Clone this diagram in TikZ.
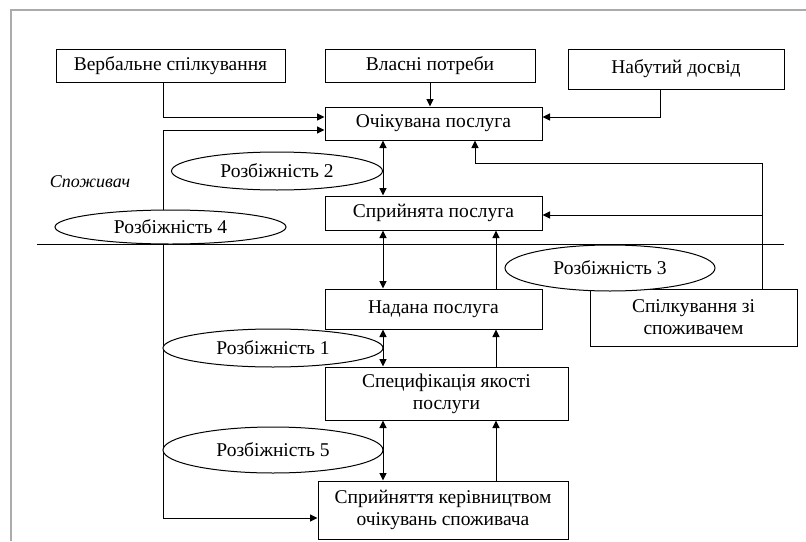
\documentclass[tikz,border=0pt]{standalone}
\usepackage{fontspec}
\setmainfont{Liberation Serif}
\newfontfamily\serf{Liberation Serif}
\usetikzlibrary{arrows.meta,shapes.geometric}
\begin{document}
\begin{tikzpicture}[x=1pt,y=-1pt,
  every node/.style={font=\serf\fontsize{19.5}{22}\selectfont, inner sep=0pt},
  box/.style={draw, line width=1pt, align=center},
  ell/.style={draw, ellipse, line width=1pt, fill=white},
  conn/.style={line width=1pt, -{Triangle[length=7.5pt,width=7pt]}},
  conn2/.style={line width=1pt, {Triangle[length=7.5pt,width=7pt]}-{Triangle[length=7.5pt,width=7pt]}},
  plain/.style={line width=1pt},
  frame/.style={draw=black!33, line width=2.5pt}]
\useasboundingbox (0,0) rectangle (806,541);
\draw[frame] (11,541) -- (11,10) -- (806,10);

% boxes
\node[box, minimum width=229pt, minimum height=33pt] (verb) at (170.5,65.5) {Вербальне спілкування};
\node[box, minimum width=210pt, minimum height=33pt] (vlas) at (430,65.5) {Власні потреби};
\node[box, minimum width=216pt, minimum height=40pt] (nab) at (676,69) {Набутий досвід};
\node[box, minimum width=217pt, minimum height=33pt] (ochik) at (433.5,123.5) {Очікувана послуга};
\node[box, minimum width=217pt, minimum height=34pt] (spryin) at (433.5,213) {Сприйнята послуга};
\node[box, minimum width=217pt, minimum height=40pt] (nadana) at (433.5,309) {Надана послуга};
\node[box, minimum width=243pt, minimum height=53pt] (spec) at (446.5,393.5) {Специфікація якості\\послуги};
\node[box, minimum width=250pt, minimum height=58pt] (kerivn) at (443,510) {Сприйняття керівництвом\\очікувань споживача};
\node[box, minimum width=207pt, minimum height=57pt] (spilk) at (693.5,317.5) {Спілкування зі\\споживачем};

\node[font=\serf\fontsize{18}{21}\selectfont\itshape] (spoz) at (90,182) {Споживач};

% helper coordinates
\coordinate (xl) at (163,0);
\coordinate (xn) at (660,0);
\coordinate (xs) at (762,0);
\coordinate (xd) at (383,0);
\coordinate (xu) at (496,0);
\coordinate (c1) at (475,163);
\coordinate (hl) at (37,244);
\coordinate (hr) at (784,244);

% dividing line
\draw[plain] (hl) -- (hr);

% connectors
\draw[conn] (verb.south -| xl) |- ([yshift=6.5pt]ochik.west);
\draw[conn2] ([yshift=-6.5pt]ochik.west) -| ([yshift=-8pt]kerivn.west -| xl) -- ([yshift=-8pt]kerivn.west);
\draw[conn] (vlas.south) -- (vlas.south |- ochik.north);
\draw[conn] (nab.south -| xn) |- ([yshift=6.5pt]ochik.east);
\draw[conn] (spilk.north -| xs) -- (xs |- c1) -- (c1) -- (c1 |- ochik.south);
\draw[conn] ([yshift=-2pt]xs |- spryin.east) -- ([yshift=-2pt]spryin.east);

\draw[conn2] (ochik.south -| xd) -- (spryin.north -| xd);
\draw[conn2] (spryin.south -| xd) -- (nadana.north -| xd);
\draw[conn2] (nadana.south -| xd) -- (spec.north -| xd);
\draw[conn2] (spec.south -| xd) -- (kerivn.north -| xd);

\draw[conn] (nadana.north -| xu) -- (spryin.south -| xu);
\draw[conn] (spec.north -| xu) -- (nadana.south -| xu);
\draw[conn] (kerivn.north -| xu) -- (spec.south -| xu);

% ellipses
\node[ell, minimum width=211pt, minimum height=38pt] (r2) at (277,171) {Розбіжність 2};
\node[ell, minimum width=231pt, minimum height=34pt] (r4) at (170.5,227) {Розбіжність 4};
\node[ell, minimum width=210pt, minimum height=46pt] (r3) at (610,268) {Розбіжність 3};
\node[ell, minimum width=220pt, minimum height=38pt] (r1) at (273,348) {Розбіжність 1};
\node[ell, minimum width=220pt, minimum height=46pt] (r5) at (273,450) {Розбіжність 5};
\end{tikzpicture}
\end{document}
